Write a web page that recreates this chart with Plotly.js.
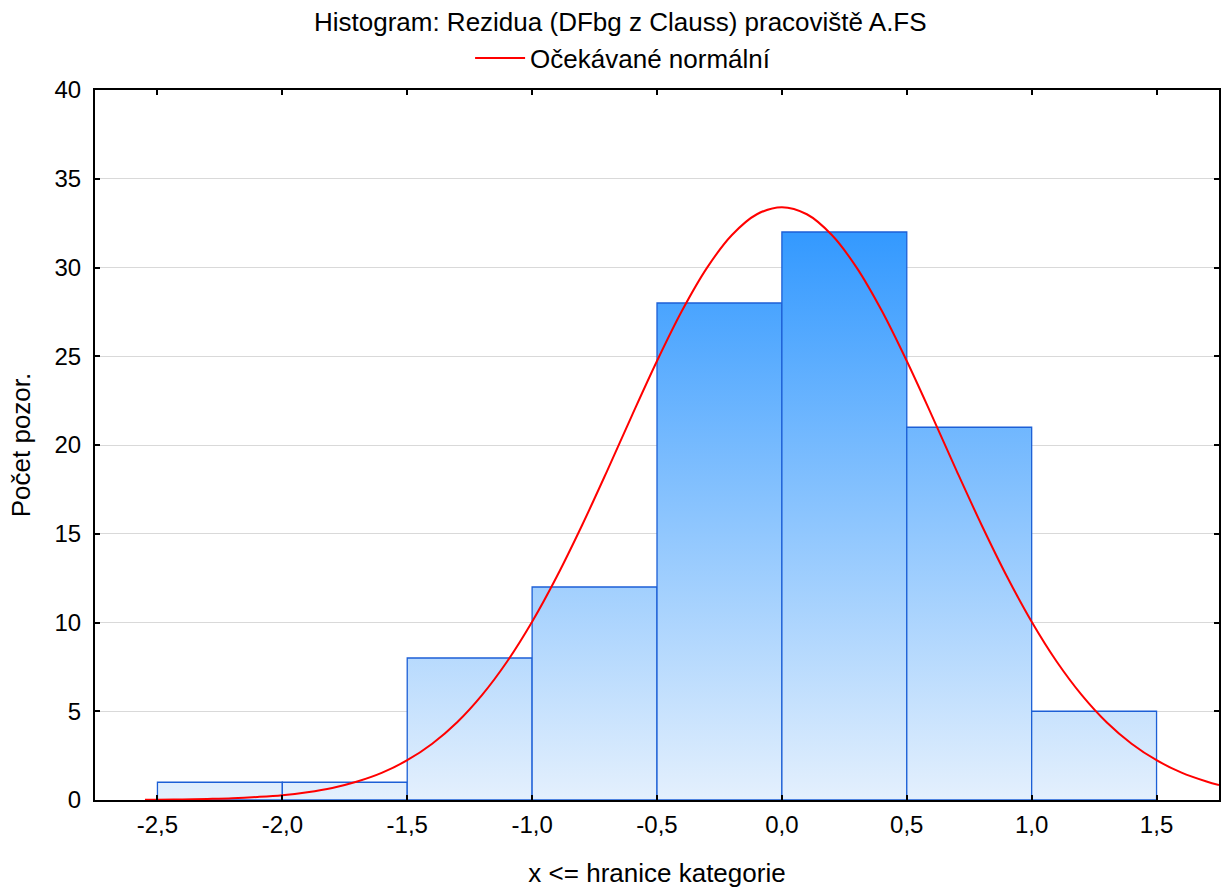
<!DOCTYPE html>
<html>
<head>
<meta charset="utf-8">
<script src="https://cdn.plot.ly/plotly-3.0.1.min.js"></script>
<style>
  html, body { margin: 0; padding: 0; background: #ffffff; }
  #chart { width: 1221px; height: 888px; }
</style>
</head>
<body>
<div id="chart"></div>
<script>
// Histogram bins: upper class boundaries (x <= boundary) and counts
const binEdges = [-2.5, -2.0, -1.5, -1.0, -0.5, 0.0, 0.5, 1.0, 1.5];
const binCounts = [1, 1, 8, 12, 28, 32, 21, 5];

// Expected normal frequency curve
const normalX = [-2.55, -2.5, -2.4, -2.3, -2.2, -2.1, -2.0, -1.9, -1.8, -1.7, -1.6,
  -1.5, -1.4, -1.3, -1.2, -1.1, -1.0, -0.9, -0.8, -0.7, -0.6, -0.5, -0.4, -0.3,
  -0.2, -0.1, 0.0, 0.1, 0.2, 0.3, 0.4, 0.5, 0.6, 0.7, 0.8, 0.9, 1.0, 1.1, 1.2,
  1.3, 1.4, 1.5, 1.6, 1.7, 1.75];
const normalY = [0.01, 0.02, 0.03, 0.06, 0.10, 0.17, 0.27, 0.44, 0.68, 1.04, 1.54,
  2.24, 3.17, 4.38, 5.92, 7.80, 10.04, 12.62, 15.48, 18.53, 21.67, 24.73, 27.56, 29.98,
  31.83, 33.00, 33.40, 33.00, 31.83, 29.98, 27.56, 24.73, 21.67, 18.53, 15.48, 12.62, 10.04, 7.80, 5.92,
  4.38, 3.17, 2.24, 1.54, 1.04, 0.84];

// Axis ticks
const xTickVals = [-2.5, -2.0, -1.5, -1.0, -0.5, 0.0, 0.5, 1.0, 1.5];
const xTickText = ['-2,5', '-2,0', '-1,5', '-1,0', '-0,5', '0,0', '0,5', '1,0', '1,5'];
const yTickVals = [0, 5, 10, 15, 20, 25, 30, 35, 40];

const FONT = 'Liberation Sans, Arial, sans-serif';
const maxCount = Math.max(...binCounts);

// Each bar is a closed polygon filled with a vertical gradient on the y scale
const barTraces = binCounts.map((c, i) => {
  const x0 = binEdges[i], x1 = binEdges[i + 1];
  return {
    type: 'scatter',
    mode: 'lines',
    x: [x0, x0, x1, x1, x0],
    y: [0, c, c, 0, 0],
    fill: 'toself',
    fillgradient: {
      type: 'vertical',
      start: 0,
      stop: maxCount,
      colorscale: [[0, '#e4f0fd'], [1, '#3399ff']]
    },
    line: { color: '#1c5fd6', width: 1.3 },
    showlegend: false,
    hoverinfo: 'skip'
  };
});

const curveTrace = {
  type: 'scatter',
  mode: 'lines',
  name: 'Očekávané normální',
  x: normalX,
  y: normalY,
  line: { color: '#ff0000', width: 2, shape: 'spline' },
  showlegend: true
};

const layout = {
  width: 1221,
  height: 888,
  margin: { l: 95, r: 2, t: 90, b: 88 },
  paper_bgcolor: '#ffffff',
  plot_bgcolor: '#ffffff',
  font: { family: FONT, size: 24, color: '#000000' },
  title: {
    text: 'Histogram: Rezidua (DFbg z Clauss) pracoviště A.FS',
    font: { family: FONT, size: 26, color: '#000000' },
    xref: 'container', x: 0.508, xanchor: 'center',
    yref: 'container', y: 0.975, yanchor: 'middle'
  },
  showlegend: true,
  legend: {
    orientation: 'h',
    xref: 'container', x: 0.385, xanchor: 'left',
    yref: 'container', y: 0.961, yanchor: 'top',
    font: { family: FONT, size: 26, color: '#000000' },
    bgcolor: 'rgba(0,0,0,0)',
    itemwidth: 50
  },
  xaxis: {
    range: [-2.75, 1.75],
    tickmode: 'array',
    tickvals: xTickVals,
    ticktext: xTickText,
    ticks: 'inside',
    ticklen: 5,
    tickwidth: 2,
    tickcolor: '#000000',
    ticklabelstandoff: 2,
    showline: true,
    linecolor: '#000000',
    linewidth: 2,
    mirror: 'ticks',
    showgrid: false,
    zeroline: false,
    tickfont: { family: FONT, size: 24 },
    title: { text: 'x <= hranice kategorie', font: { family: FONT, size: 26 }, standoff: 33 }
  },
  yaxis: {
    range: [0, 40],
    tickmode: 'array',
    tickvals: yTickVals,
    ticks: 'inside',
    ticklen: 5,
    tickwidth: 2,
    tickcolor: '#000000',
    ticklabelstandoff: 7,
    showline: true,
    linecolor: '#000000',
    linewidth: 2,
    mirror: 'ticks',
    showgrid: true,
    gridcolor: '#d9d9d9',
    gridwidth: 1,
    zeroline: false,
    tickfont: { family: FONT, size: 24 },
    title: { text: 'Počet pozor.', font: { family: FONT, size: 26 }, standoff: 16 }
  }
};

Plotly.newPlot('chart', [...barTraces, curveTrace], layout, { staticPlot: true });
</script>
</body>
</html>
